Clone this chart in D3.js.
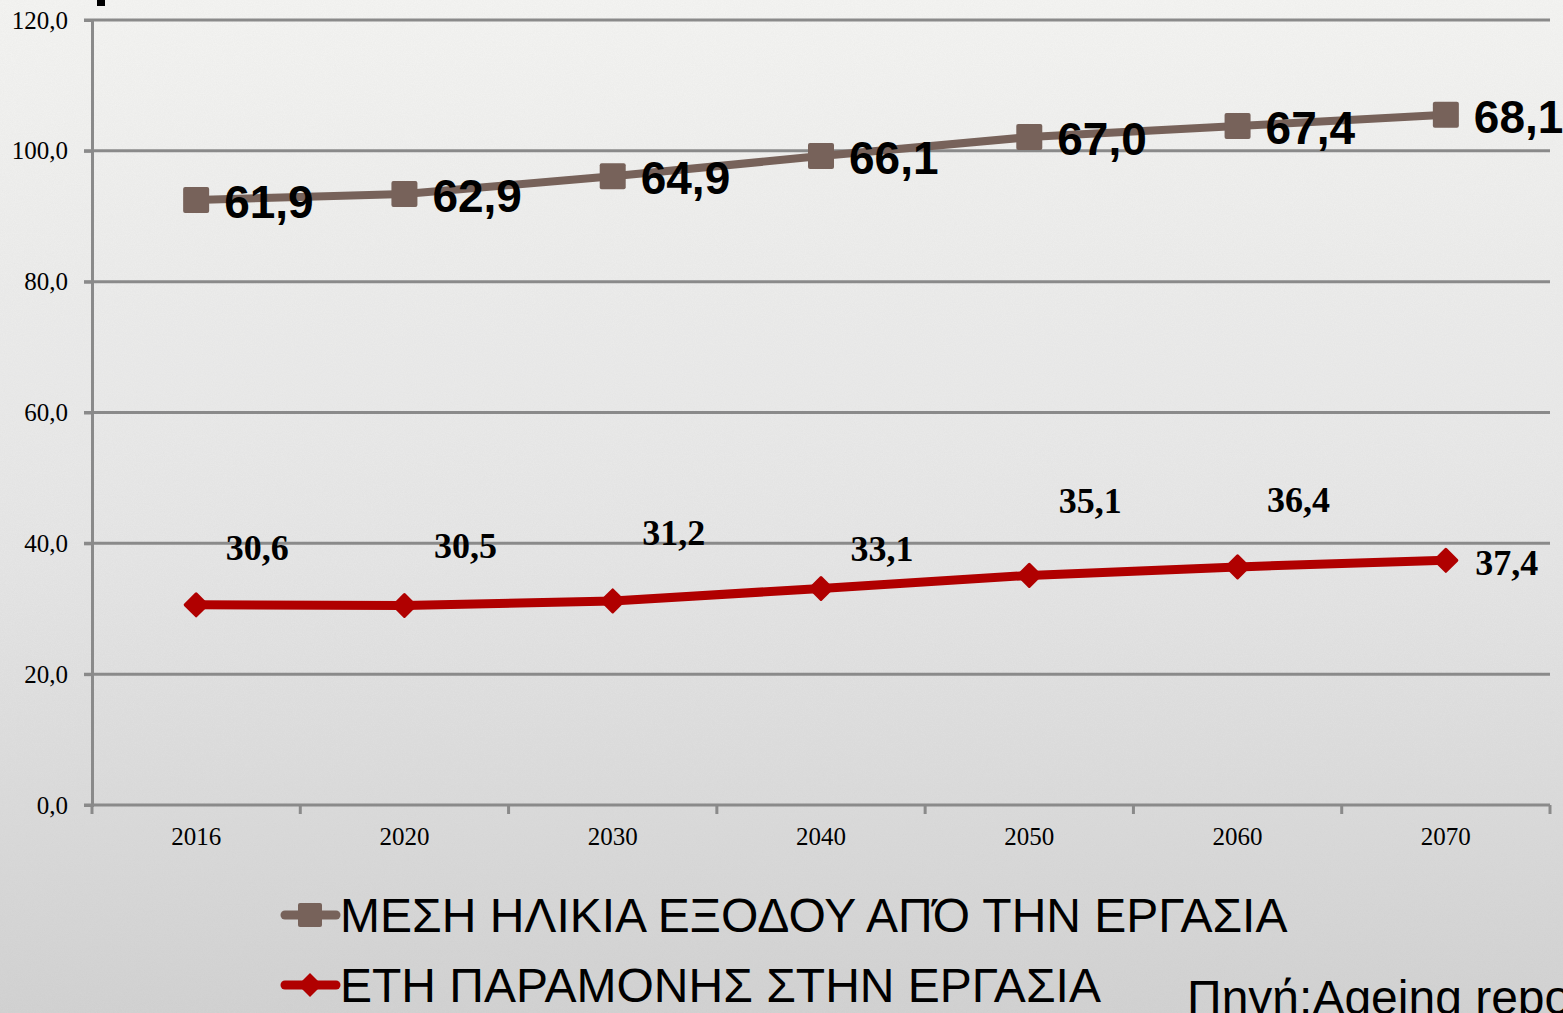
<!DOCTYPE html>
<html><head><meta charset="utf-8">
<script src="https://cdn.jsdelivr.net/npm/d3@7"></script>
<style>html,body{margin:0;padding:0;overflow:hidden;background:#e4e4e4}</style>
</head><body>
<svg id="chart" width="1563" height="1013"></svg>
<script>
const years = ["2016","2020","2030","2040","2050","2060","2070"];
const yearsInWork = [30.6, 30.5, 31.2, 33.1, 35.1, 36.4, 37.4];
const exitAge = [61.9, 62.9, 64.9, 66.1, 67.0, 67.4, 68.1];
const yTicks = [0, 20, 40, 60, 80, 100, 120];
const seriesNames = ["ΜΕΣΗ ΗΛΙΚΙΑ ΕΞΟΔΟΥ ΑΠΌ ΤΗΝ ΕΡΓΑΣΙΑ", "ΕΤΗ ΠΑΡΑΜΟΝΗΣ ΣΤΗΝ ΕΡΓΑΣΙΑ"];
const sourceText = "Πηγή:Ageing report 2018";
// manual label vertical offsets (px) for the red series labels, as placed in the original
const redLabelDy = [-57, -60, -69, -40, -75, -67, 2];

(function(){
const svg = d3.select("#chart");
const W = 1563, H = 1013;
const defs = svg.append("defs");
const grad = defs.append("linearGradient").attr("id","bg").attr("x1",0).attr("y1",0).attr("x2",0).attr("y2",1);
grad.append("stop").attr("offset","0%").attr("stop-color","#f5f5f3");
grad.append("stop").attr("offset","55%").attr("stop-color","#e6e6e6");
grad.append("stop").attr("offset","100%").attr("stop-color","#d2d2d2");
const f = defs.append("filter").attr("id","noise").attr("x",0).attr("y",0).attr("width","100%").attr("height","100%");
f.append("feTurbulence").attr("type","fractalNoise").attr("baseFrequency",0.9).attr("numOctaves",2).attr("seed",3).attr("result","t");
f.append("feColorMatrix").attr("type","matrix").attr("values","0 0 0 0 0.5  0 0 0 0 0.5  0 0 0 0 0.5  0 0 0 0.14 0");
svg.append("rect").attr("width",W).attr("height",H).attr("fill","url(#bg)");
svg.append("rect").attr("width",W).attr("height",H).attr("filter","url(#noise)").attr("opacity",0.9);

// cut-off title fragment at top
svg.append("rect").attr("x",97).attr("y",0).attr("width",8).attr("height",6).attr("fill","#000");

const mLeft = 92, mRight = 1550, mTop = 20, mBottom = 805;
const x = d3.scaleBand().domain(years).range([mLeft, mRight]);
const y = d3.scaleLinear().domain([0,120]).range([mBottom, mTop]);
const gridColor = "#8a8a8a";

// gridlines
svg.append("g").selectAll("line").data(yTicks.filter(d=>d>0)).join("line")
  .attr("x1", mLeft-8).attr("x2", mRight).attr("y1", d=>y(d)).attr("y2", d=>y(d))
  .attr("stroke", gridColor).attr("stroke-width", 3);

// y axis
const yAxis = svg.append("g").attr("transform",`translate(${mLeft},0)`)
  .call(d3.axisLeft(y).tickValues(yTicks).tickSize(8).tickPadding(16)
    .tickFormat(d=>d3.format(".1f")(d).replace(".",",")));
yAxis.select(".domain").attr("stroke",gridColor).attr("stroke-width",3);
yAxis.selectAll(".tick line").attr("stroke",gridColor).attr("stroke-width",3);
yAxis.selectAll("text").attr("font-family","'Liberation Serif','Times New Roman',serif").attr("font-size",25).attr("fill","#000");

// x axis
const xAxis = svg.append("g").attr("transform",`translate(0,${mBottom})`)
  .call(d3.axisBottom(x).tickSize(0).tickPadding(22));
xAxis.select(".domain").attr("stroke",gridColor).attr("stroke-width",3).attr("d",`M${mLeft-8},0H${mRight}`);
xAxis.selectAll("text").attr("font-family","'Liberation Serif','Times New Roman',serif").attr("font-size",25).attr("fill","#000");
// boundary tick marks
const boundaries = years.map(d=>x(d)).concat([x(years[years.length-1])+x.bandwidth()]);
svg.append("g").selectAll("line").data(boundaries).join("line")
  .attr("x1",d=>d).attr("x2",d=>d).attr("y1",mBottom).attr("y2",mBottom+9)
  .attr("stroke",gridColor).attr("stroke-width",3);

// stacked data
const rows = years.map((yr,i)=>({year:yr, work:yearsInWork[i], exit:exitAge[i]}));
const stack = d3.stack().keys(["work","exit"])(rows);
const cx = d => x(d.data.year) + x.bandwidth()/2;
const brown = "#77625a", red = "#b00000";

const line = d3.line().x(d=>cx(d)).y(d=>y(d[1]));
svg.append("path").datum(stack[1]).attr("d",line).attr("fill","none").attr("stroke",brown).attr("stroke-width",8).attr("stroke-linejoin","round");
svg.append("path").datum(stack[0]).attr("d",line).attr("fill","none").attr("stroke",red).attr("stroke-width",9).attr("stroke-linejoin","round");

// markers
svg.append("g").selectAll("rect").data(stack[1]).join("rect")
  .attr("x",d=>cx(d)-13).attr("y",d=>y(d[1])-13).attr("width",26).attr("height",26).attr("rx",2).attr("fill",brown);
svg.append("g").selectAll("rect").data(stack[0]).join("rect")
  .attr("width",18.5).attr("height",18.5).attr("rx",1.5).attr("fill",red)
  .attr("transform",d=>`translate(${cx(d)},${y(d[1])}) rotate(45) translate(-9.25,-9.25)`);

const fmt = v => d3.format(".1f")(v).replace(".",",");
// labels brown (Arial bold)
svg.append("g").selectAll("text").data(stack[1]).join("text")
  .attr("x",d=>cx(d)+28).attr("y",d=>y(d[1])+2).attr("dy","0.35em")
  .attr("font-family","'Liberation Sans',Arial,sans-serif").attr("font-weight","bold").attr("font-size",46)
  .attr("fill","#000").text(d=>fmt(d.data.exit));
// labels red (Times bold)
svg.append("g").selectAll("text").data(stack[0]).join("text")
  .attr("x",d=>cx(d)+61).attr("y",(d,i)=>y(d[1])+redLabelDy[i]).attr("dy","0.35em").attr("text-anchor","middle")
  .attr("font-family","'Liberation Serif','Times New Roman',serif").attr("font-weight","bold").attr("font-size",36)
  .attr("fill","#000").text(d=>fmt(d.data.work));

// legend
const legend = [{name:seriesNames[0], color:brown, type:"square", ly:915},{name:seriesNames[1], color:red, type:"diamond", ly:985}];
const lg = svg.append("g").selectAll("g").data(legend).join("g").attr("transform",d=>`translate(0,${d.ly})`);
lg.append("line").attr("x1",285).attr("x2",336).attr("stroke",d=>d.color).attr("stroke-width",9).attr("stroke-linecap","round");
lg.filter(d=>d.type==="square").append("rect").attr("x",298).attr("y",-12).attr("width",24).attr("height",24).attr("rx",2).attr("fill",d=>d.color);
lg.filter(d=>d.type==="diamond").append("rect").attr("width",17).attr("height",17).attr("fill",d=>d.color)
  .attr("transform","translate(310,0) rotate(45) translate(-8.5,-8.5)");
lg.append("text").attr("x",340).attr("y",0).attr("dy","0.36em")
  .attr("font-family","'Liberation Sans',Arial,sans-serif").attr("font-size",48).attr("fill","#000").text(d=>d.name);

svg.append("text").attr("x",1187).attr("y",1014)
  .attr("font-family","'Liberation Sans',Arial,sans-serif").attr("font-size",48).attr("fill","#000").text(sourceText);
})();
</script>
</body></html>
